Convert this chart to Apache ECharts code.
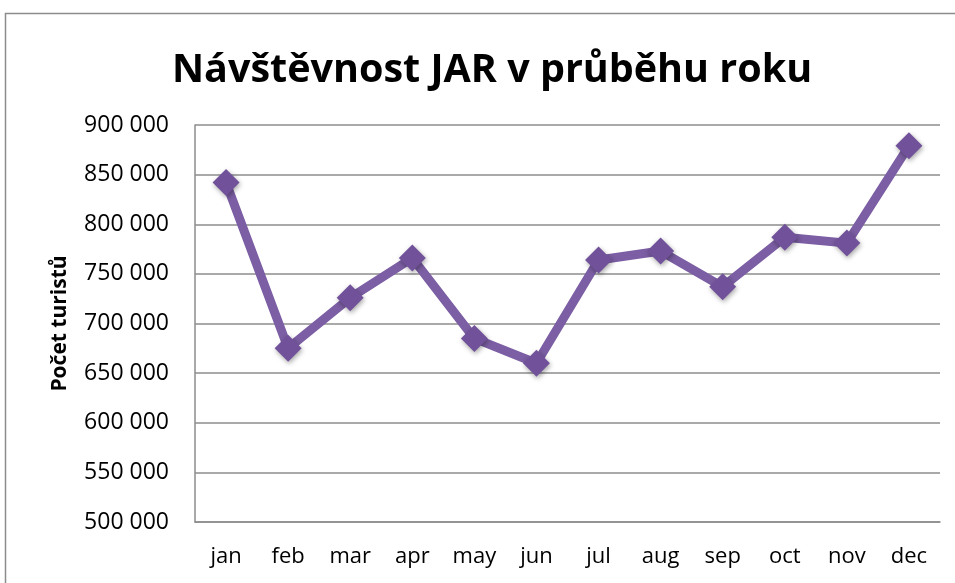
<!DOCTYPE html>
<html>
<head>
<meta charset="utf-8">
<script src="https://cdn.jsdelivr.net/npm/echarts@6/dist/echarts.min.js"></script>
<style>
html, body { margin: 0; padding: 0; background: #fff; }
#chart { width: 955px; height: 583px; }
</style>
</head>
<body>
<div id="chart"></div>
<script>
const months = ['jan', 'feb', 'mar', 'apr', 'may', 'jun', 'jul', 'aug', 'sep', 'oct', 'nov', 'dec']
const visitors = [842000, 675000, 726000, 766000, 685000, 660000, 764000, 773000, 737000, 787000, 781000, 879000]
const yTicks = [500000, 900000, 50000] // min, max, step

const font = "'Open Sans', sans-serif"

const myChart = echarts.init(document.getElementById('chart'))
const option = {
  animation: false,
  graphic: [{
    type: 'rect',
    shape: { x: 5.5, y: 13.5, width: 1000, height: 1000 },
    style: { fill: 'none', stroke: '#8c8c8c', lineWidth: 1.5 }
  }],
  title: {
    text: 'Návštěvnost JAR v průběhu roku',
    left: 167,
    top: 46,
    textStyle: { fontFamily: font, fontWeight: 'bold', fontSize: 39.5, color: '#000' }
  },
  grid: { left: 195, right: 15, top: 125, bottom: 61 },
  xAxis: {
    type: 'category',
    data: months,
    axisLine: { lineStyle: { color: '#8c8c8c', width: 1.5 } },
    axisTick: { show: false },
    axisLabel: { fontFamily: font, fontSize: 22, color: '#000', margin: 24 }
  },
  yAxis: {
    type: 'value',
    min: yTicks[0],
    max: yTicks[1],
    interval: yTicks[2],
    name: 'Počet turistů',
    nameLocation: 'middle',
    nameGap: 124,
    nameTextStyle: { fontFamily: font, fontWeight: 'bold', fontSize: 21, color: '#000' },
    axisLine: { show: true, lineStyle: { color: '#8c8c8c', width: 1.5 } },
    axisTick: { show: false },
    splitLine: { lineStyle: { color: '#8c8c8c', width: 1.5 } },
    axisLabel: {
      fontFamily: font, fontSize: 23, color: '#000', margin: 26,
      formatter: v => String(v).replace(/\B(?=(\d{3})+(?!\d))/g, ' ')
    }
  },
  series: [{
    type: 'line',
    data: visitors,
    symbol: 'diamond',
    symbolSize: 27,
    lineStyle: { color: '#7b5ea3', width: 9 },
    itemStyle: {
      color: '#71529a',
      shadowColor: 'rgba(0,0,0,0.35)',
      shadowBlur: 5,
      shadowOffsetX: 1,
      shadowOffsetY: 2
    }
  }]
}
option && myChart.setOption(option)
</script>
</body>
</html>
